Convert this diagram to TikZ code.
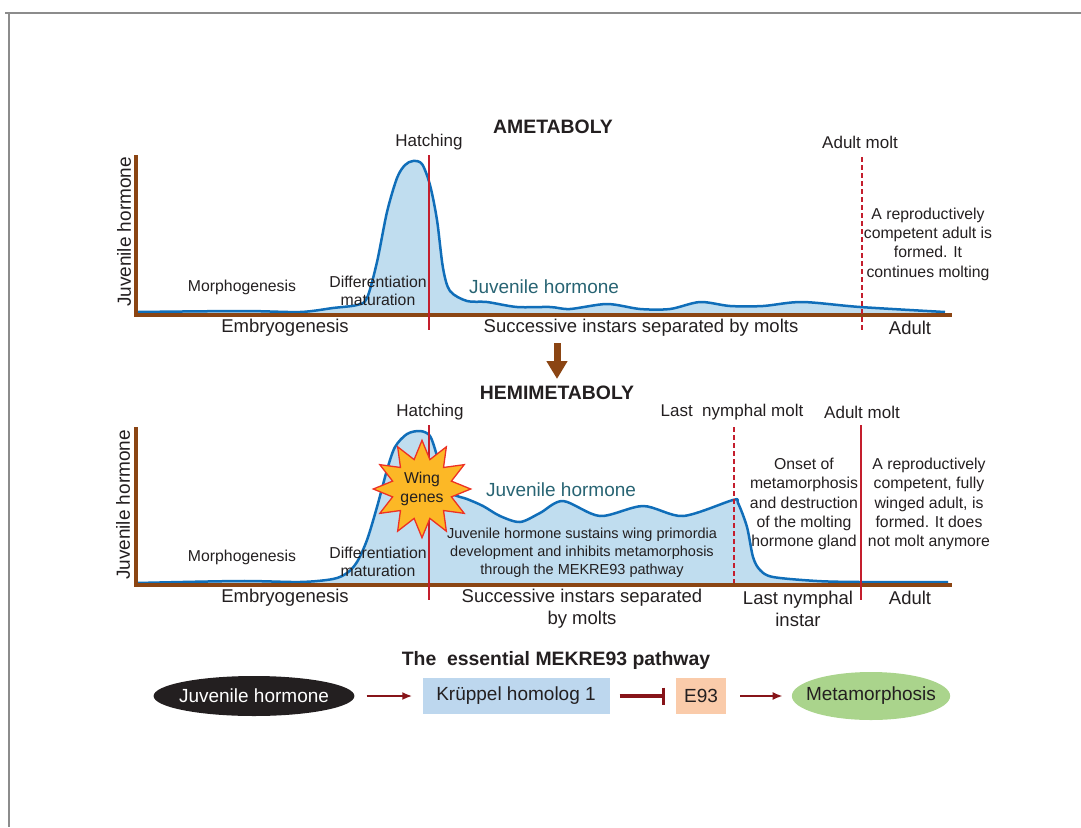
\documentclass[tikz,border=0pt]{standalone}
\usepackage{fontspec}
\setmainfont{Liberation Sans}
\usetikzlibrary{shapes.geometric,arrows.meta}
\definecolor{axisbrown}{RGB}{139,69,19}
\definecolor{curveblue}{RGB}{16,110,185}
\definecolor{areablue}{RGB}{192,221,239}
\definecolor{moltred}{RGB}{196,30,45}
\definecolor{jhteal}{RGB}{40,100,115}
\definecolor{txtgray}{RGB}{35,31,32}
\definecolor{pathred}{RGB}{135,20,25}
\definecolor{krblue}{RGB}{189,215,238}
\definecolor{epeach}{RGB}{250,203,170}
\definecolor{metagreen}{RGB}{170,212,140}
\definecolor{stargold}{RGB}{252,184,38}
\definecolor{starred}{RGB}{237,50,36}
\definecolor{framegray}{RGB}{140,140,140}

\begin{document}
\begin{tikzpicture}[x=1pt, y=-1pt,
    every node/.style={inner sep=0pt, text=txtgray},
    big/.style={font=\fontsize{18.5}{22}\selectfont, align=center},
    event/.style={font=\fontsize{17}{20}\selectfont},
    note/.style={font=\fontsize{15.8}{19.3}\selectfont, align=center},
    headline/.style={font=\bfseries\fontsize{19.4}{23}\selectfont},
    jhlabel/.style={font=\fontsize{19}{22}\selectfont, text=jhteal},
    axis/.style={draw=axisbrown, line width=4pt},
    hormone/.style={draw=curveblue, line width=2.5pt, line join=round},
    molt/.style={draw=moltred, line width=1.8pt},
    lastmolt/.style={draw=moltred, line width=1.3pt, dash pattern=on 5pt off 3pt},
    pathway/.style={draw=pathred, line width=2.5pt},
    gene/.style={font=\fontsize{19}{22}\selectfont, minimum height=36pt}]
    \useasboundingbox (0,0) rectangle (1081,827);

    % frame
    \draw[framegray, line width=2pt] (5,13) -- (1081,13);
    \draw[framegray, line width=1.3pt] (9,13) -- (9,827);

    % ametaboly
    \node[headline] (amet) at (553,127) {AMETABOLY};
    \fill[areablue] plot[smooth] coordinates {(138,312) (243,311) (300,312) (333,308) (357,305) (367,298) (377,262) (387,212) (397,178) (405,165) (413,161) (422,164) (430,185) (437,220) (443,268) (450,291) (467,301) (487,302) (517,307) (550,307) (570,309) (607,304) (640,309) (670,309) (700,302) (730,306) (763,306) (802,302) (860,307) (945,312)} -- (945,315) -- (138,315) -- cycle;
    \draw[hormone] plot[smooth] coordinates {(138,312) (243,311) (300,312) (333,308) (357,305) (367,298) (377,262) (387,212) (397,178) (405,165) (413,161) (422,164) (430,185) (437,220) (443,268) (450,291) (467,301) (487,302) (517,307) (550,307) (570,309) (607,304) (640,309) (670,309) (700,302) (730,306) (763,306) (802,302) (860,307) (945,312)};
    \draw[axis] (136,155) -- (136,315) -- (952,315);
    \draw[molt] (429,155) -- (429,330);
    \draw[lastmolt] (862,157) -- (862,330);

    \node[event] (hatch1) at (429,142) {Hatching};
    \node[event] (amolt1) at (860,142) {Adult molt};
    \node[font=\fontsize{19}{22}\selectfont, rotate=90] (yax1) at (124,232) {Juvenile hormone};
    \node[note] (morph1) at (242,287) {Morphogenesis};
    \node[note, font=\fontsize{15.8}{18.5}\selectfont] (diff1) at (378,291) {Differentiation\\maturation};
    \node[jhlabel] (jh1) at (544,287) {Juvenile hormone};
    \node[note] (repro1) at (928,244) {A reproductively\\competent adult is\\formed. It\\continues molting};
    \node[big] (emb1) at (285,328) {Embryogenesis};
    \node[big] (succ1) at (641,328) {Successive instars separated by molts};
    \node[big] (adult1) at (910,328) {Adult};

    % arrow down
    \coordinate (down1) at (557,343);
    \coordinate (down2) at (557,379);
    \draw[axisbrown, line width=7pt, -{Triangle[width=20pt, length=18pt]}] (down1) -- (down2);

    % hemimetaboly
    \node[headline] (hemi) at (557,393) {HEMIMETABOLY};
    \fill[areablue] plot[smooth] coordinates {(137,583) (240,581) (300,582) (333,579) (347,573) (357,562) (367,540) (377,507) (387,470) (395,447) (407,434) (420,431) (430,436) (437,456) (443,480) (453,494) (467,499) (483,506) (500,516) (520,522) (540,513) (563,501) (600,516) (643,506) (683,516) (733,500) (738,503) (747,527) (753,557) (760,570) (773,577) (817,581) (860,582) (948,582)} -- (948,585) -- (137,585) -- cycle;
    \draw[hormone] plot[smooth] coordinates {(137,583) (240,581) (300,582) (333,579) (347,573) (357,562) (367,540) (377,507) (387,470) (395,447) (407,434) (420,431) (430,436) (437,456) (443,480) (453,494) (467,499) (483,506) (500,516) (520,522) (540,513) (563,501) (600,516) (643,506) (683,516) (733,500) (738,503) (747,527) (753,557) (760,570) (773,577) (817,581) (860,582) (948,582)};
    \draw[axis] (136,427) -- (136,585) -- (952,585);
    \draw[molt] (429,425) -- (429,600);
    \draw[lastmolt] (734,427) -- (734,583);
    \draw[molt] (861,425) -- (861,600);

    \node[star, star points=12, star point ratio=1.6, minimum size=96pt, fill=stargold, draw=starred, line width=1.3pt, note] (wing) at (422,489) {Wing\\genes};

    \node[event] (hatch2) at (430,412) {Hatching};
    \node[event] (lnmolt) at (732,412) {Last\ \ nymphal molt};
    \node[event] (amolt2) at (862,412) {Adult molt};
    \node[font=\fontsize{19}{22}\selectfont, rotate=90] (yax2) at (123,505) {Juvenile hormone};
    \node[note] (morph2) at (242,557) {Morphogenesis};
    \node[note, font=\fontsize{15.8}{18.5}\selectfont] (diff2) at (378,562) {Differentiation\\maturation};
    \node[jhlabel] (jh2) at (561,490) {Juvenile hormone};
    \node[align=center, font=\fontsize{14.5}{18}\selectfont] (sustain) at (582,553) {Juvenile hormone sustains wing primordia\\development and inhibits metamorphosis\\through the MEKRE93 pathway};
    \node[note] (onset) at (804,504) {Onset of\\metamorphosis\\and destruction\\of the molting\\hormone gland};
    \node[note] (repro2) at (929,504) {A reproductively\\competent, fully\\winged adult, is\\formed. It does\\not molt anymore};
    \node[big] (emb2) at (285,598) {Embryogenesis};
    \node[big] (succ2) at (582,609) {Successive instars separated\\by molts};
    \node[big] (lninst) at (798,609) {Last nymphal\\instar};
    \node[big] (adult2) at (910,598) {Adult};

    % MEKRE93 pathway
    \node[headline] (mekre) at (556,660) {The\ \ essential MEKRE93 pathway};
    \node[gene, ellipse, fill=txtgray, text=white, inner xsep=-4pt, minimum height=40pt] (jhnode) at (254,696) {Juvenile hormone};
    \node[gene, rectangle, fill=krblue, minimum width=187pt] (kr1) at (516,696) {Krüppel homolog 1};
    \node[gene, rectangle, fill=epeach, minimum width=50pt] (e93) at (701,696) {E93};
    \node[gene, ellipse, fill=metagreen, inner xsep=-9pt, minimum height=48pt] (meta) at (871,696) {Metamorphosis};

    \draw[pathway, -{Latex[length=10pt, width=8pt]}, shorten <=12pt, shorten >=10pt] (jhnode) -- (kr1);
    \draw[pathway, line width=3.5pt, -{Bar[width=17pt, line width=3pt]}, shorten <=10pt, shorten >=11pt] (kr1) -- (e93);
    \draw[pathway, -{Latex[length=10pt, width=8pt]}, shorten <=14pt, shorten >=9pt] (e93) -- (meta);
\end{tikzpicture}
\end{document}
